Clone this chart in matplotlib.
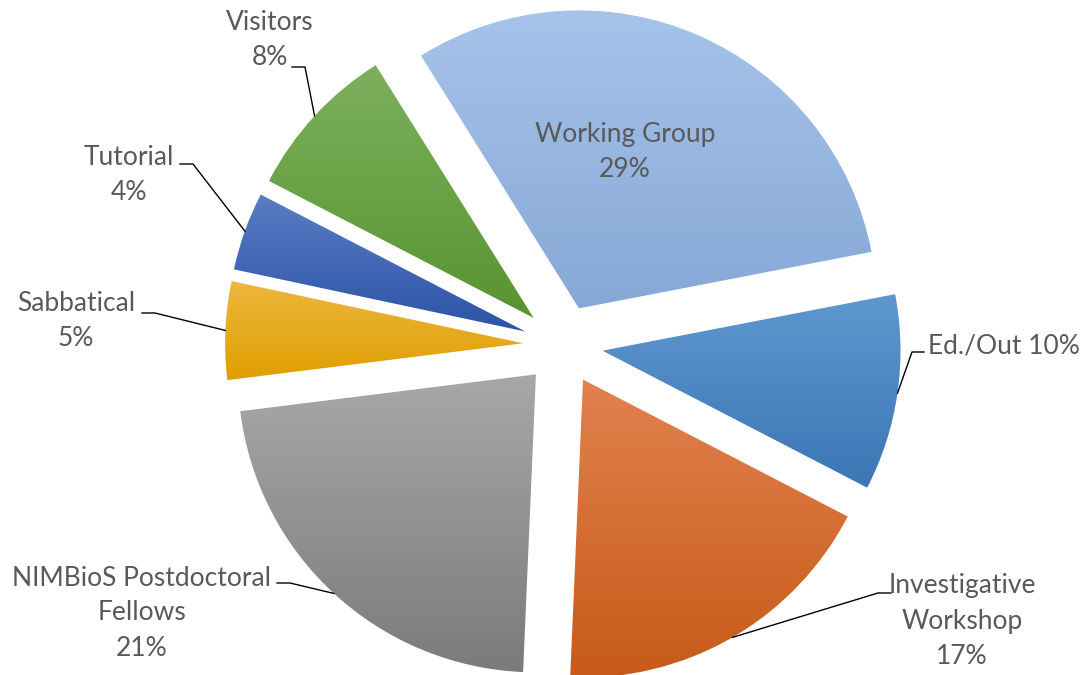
import numpy as np
import matplotlib
matplotlib.use('Agg')
import matplotlib.pyplot as plt
from matplotlib.colors import LinearSegmentedColormap

# activity shares (percent) going clockwise from the top
categories = ['Working Group', 'Ed./Out', 'Investigative\nWorkshop',
              'NIMBioS Postdoctoral\nFellows', 'Sabbatical', 'Tutorial', 'Visitors']
shares = [29, 10, 17, 21, 5, 4, 8]

# gradient fill per slice, light at the top, darker at the bottom
top_colors = ['#a6c3ea', '#5f98cf', '#e2824f', '#a8a8a8', '#edb73f', '#5a7cc4', '#7db05e']
bottom_colors = ['#87a8d6', '#3b76b6', '#c75a18', '#7b7b7b', '#df9f00', '#2c53a6', '#579430']

plt.rcParams['font.family'] = ['Lato', 'DejaVu Sans']
text_color = '#595959'

R_PX = 298.0
CX, CY = 563, 345
W, H = 1082, 675


def px(x, y):
    # pixel position (from top-left) to data units of the pie
    return ((x - CX) / R_PX, (CY - y) / R_PX)


fig = plt.figure(figsize=(W / 100, H / 100), dpi=100)
ax = fig.add_axes([0, 0, 1, 1])

wedges, _ = ax.pie(shares, explode=[0.134] * len(shares), startangle=122,
                   counterclock=False, radius=1.0, wedgeprops=dict(linewidth=0))

grad = np.linspace(0, 1, 256).reshape(-1, 1)
for w, c0, c1 in zip(wedges, top_colors, bottom_colors):
    w.set_facecolor('none')
    ext = w.get_path().get_extents()
    cmap = LinearSegmentedColormap.from_list('g', [c0, c1])
    im = ax.imshow(grad, cmap=cmap, extent=(ext.x0, ext.x1, ext.y0, ext.y1),
                   origin='upper', aspect='auto', interpolation='bilinear', zorder=1)
    im.set_clip_path(w)

labels = [f'{c}\n{v}%' for c, v in zip(categories, shares)]
labels[1] = f'{categories[1]} {shares[1]}%'

# outside label layout: text anchor, knee of leader line, end of leader line
layout = {
    1: ((928, 346), (912, 352), (924, 352), 'left'),
    2: ((962, 621), (878, 593), (891, 593), 'center'),
    3: ((142, 613), (290, 583), (277, 583), 'center'),
    4: ((76, 321), (155, 313), (142, 313), 'center'),
    5: ((129, 175), (193, 164), (180, 164), 'center'),
    6: ((270, 40), (305, 67), (292, 67), 'center'),
}

fs = 19
for i, w in enumerate(wedges):
    mid = np.deg2rad((w.theta1 + w.theta2) / 2)
    cx, cy = w.center
    if i == 0:
        ax.text(cx + 0.56 * np.cos(mid) - 0.07, cy + 0.56 * np.sin(mid) + 0.01, labels[i],
                ha='center', va='center', fontsize=fs, color=text_color,
                linespacing=1.5, zorder=3)
        continue
    (tx, ty), knee, end, ha = layout[i]
    sx, sy = cx + np.cos(mid), cy + np.sin(mid)
    kx, ky = px(*knee)
    ex, ey = px(*end)
    ax.plot([sx, kx, ex], [sy, ky, ey], color='black', lw=1.0, zorder=2)
    ax.text(*px(tx, ty), labels[i], ha=ha, va='center', fontsize=fs,
            color=text_color, linespacing=1.5, multialignment='center', zorder=3)

ax.set_xlim(-CX / R_PX, (W - CX) / R_PX)
ax.set_ylim((CY - H) / R_PX, CY / R_PX)
ax.set_aspect('auto')
ax.axis('off')

fig.savefig('out.png', dpi=100)
